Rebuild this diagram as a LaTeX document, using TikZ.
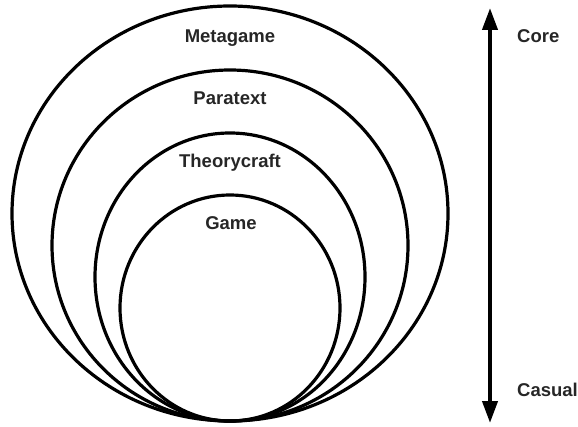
\documentclass[tikz,border=0pt]{standalone}
\usepackage{fontspec}
\setmainfont{Liberation Sans}
\usetikzlibrary{arrows.meta}
\begin{document}
\begin{tikzpicture}[x=1pt,y=-1pt,
  ring/.style={line width=3.2pt, draw=black},
  lbl/.style={font=\fontsize{18.5}{20}\selectfont\bfseries, text=black!85, anchor=base, inner sep=0pt},
  axisline/.style={line width=4pt, {Triangle[width=15pt,length=22pt]}-{Triangle[width=15pt,length=22pt]}}]
  \useasboundingbox (0,0) rectangle (578,427);

  % nested layers, all touching at the bottom
  \draw[ring] (230,213.5) ellipse [x radius=218, y radius=207.5];
  \draw[ring] (230,245.5) ellipse [x radius=178, y radius=175.5];
  \draw[ring] (230,277)   ellipse [x radius=135, y radius=144];
  \draw[ring] (230,308)   ellipse [x radius=110, y radius=113];

  % layer names
  \node[lbl] (metagame)    at (230,43)  {Metagame};
  \node[lbl] (paratext)    at (230,105) {Paratext};
  \node[lbl] (theorycraft) at (230,167.5) {Theorycraft};
  \node[lbl] (game)        at (231,230) {Game};

  % core / casual axis
  \coordinate (top) at (490,8);
  \coordinate (bottom) at (490,423);
  \draw[axisline] (bottom) -- (top);
  \node[lbl, anchor=base west] (core)   at (517,43)  {Core};
  \node[lbl, anchor=base west] (casual) at (517,396) {Casual};
\end{tikzpicture}
\end{document}
